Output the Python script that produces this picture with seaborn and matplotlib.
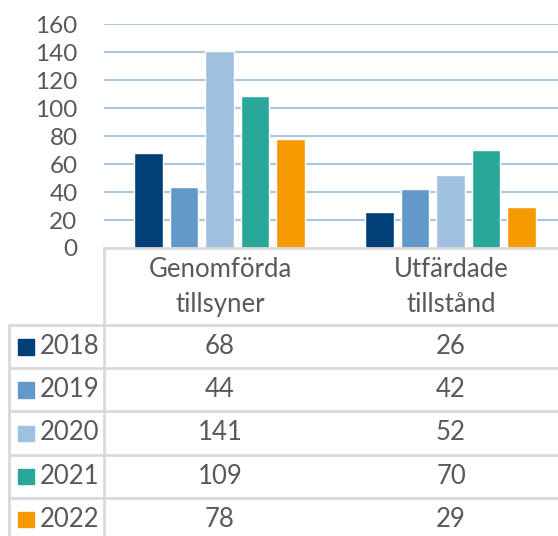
import matplotlib
matplotlib.use("Agg")
import matplotlib.pyplot as plt
from matplotlib.patches import Rectangle
import seaborn as sns
import pandas as pd

categories = ["Genomförda\ntillsyner", "Utfärdade\ntillstånd"]
years = ["2018", "2019", "2020", "2021", "2022"]
v2018 = [68, 26]
v2019 = [44, 42]
v2020 = [141, 52]
v2021 = [109, 70]
v2022 = [78, 29]
colors = ["#003F78", "#6399CA", "#A0C0E0", "#29A899", "#F59A00"]
yticks = [0, 20, 40, 60, 80, 100, 120, 140, 160]

series = [v2018, v2019, v2020, v2021, v2022]
df = pd.DataFrame([
    {"cat": c, "year": y, "value": vals[i]}
    for y, vals in zip(years, series)
    for i, c in enumerate(categories)
])

sns.set_theme(style="white")
plt.rcParams["font.family"] = ["Lato", "DejaVu Sans"]
text_color = "#595959"
line_color = "#D9D9D9"
grid_color = "#A9C4E4"

W, H = 558, 536
fig = plt.figure(figsize=(W / 100, H / 100), dpi=100)

# plot area in pixel terms (right side runs past the picture edge)
x0, x1, ytop, ybot = 104, 566, 24.5, 248
ax = fig.add_axes([x0 / W, 1 - ybot / H, (x1 - x0) / W, (ybot - ytop) / H])
sns.barplot(data=df, x="cat", y="value", hue="year", palette=colors,
            width=0.77, gap=0.2, ax=ax, legend=False, saturation=1)
ax.set_ylim(0, 160)
ax.set_xlim(-0.5, 1.5)
ax.set_yticks(yticks)
ax.set_yticklabels([str(t) for t in yticks], fontsize=17.5, color=text_color)
ax.set_xticks([])
ax.set_xlabel("")
ax.set_ylabel("")
ax.tick_params(axis="y", length=0, pad=19)
for t in yticks[1:]:
    ax.axhline(t, color=grid_color, lw=1.5, zorder=0)
ax.set_axisbelow(True)
for s in ["top", "right", "left"]:
    ax.spines[s].set_visible(False)
ax.spines["bottom"].set_color(line_color)
ax.spines["bottom"].set_linewidth(2)

# data table drawn in pixel coordinates
tab = fig.add_axes([0, 0, 1, 1], zorder=-1)
tab.set_xlim(0, W)
tab.set_ylim(H, 0)
tab.axis("off")

col_centers = [220, 451]
header_top, header_bot = 248, 325
row_h = 43.2
fs = 18.5
tab.plot([x0, x0], [header_top, H], color=line_color, lw=2)
tab.plot([9, 9], [header_bot, H], color=line_color, lw=2)
for i in range(len(years)):
    yline = header_bot + i * row_h
    tab.plot([9, W], [yline, yline], color=line_color, lw=2)

for c, xc in zip(categories, col_centers):
    tab.text(xc, (header_top + header_bot) / 2 + 0.5, c, ha="center", va="center",
             fontsize=fs, color=text_color, linespacing=1.5)

for i, (y, vals, col) in enumerate(zip(years, series, colors)):
    yc = header_bot + (i + 0.5) * row_h
    tab.add_patch(Rectangle((18, yc - 7.5), 15.5, 15.5, color=col))
    tab.text(40, yc, y, ha="left", va="center", fontsize=fs, color=text_color)
    for v, xc in zip(vals, col_centers):
        tab.text(xc, yc, str(v), ha="center", va="center", fontsize=fs, color=text_color)

fig.savefig("out.png", dpi=100)
